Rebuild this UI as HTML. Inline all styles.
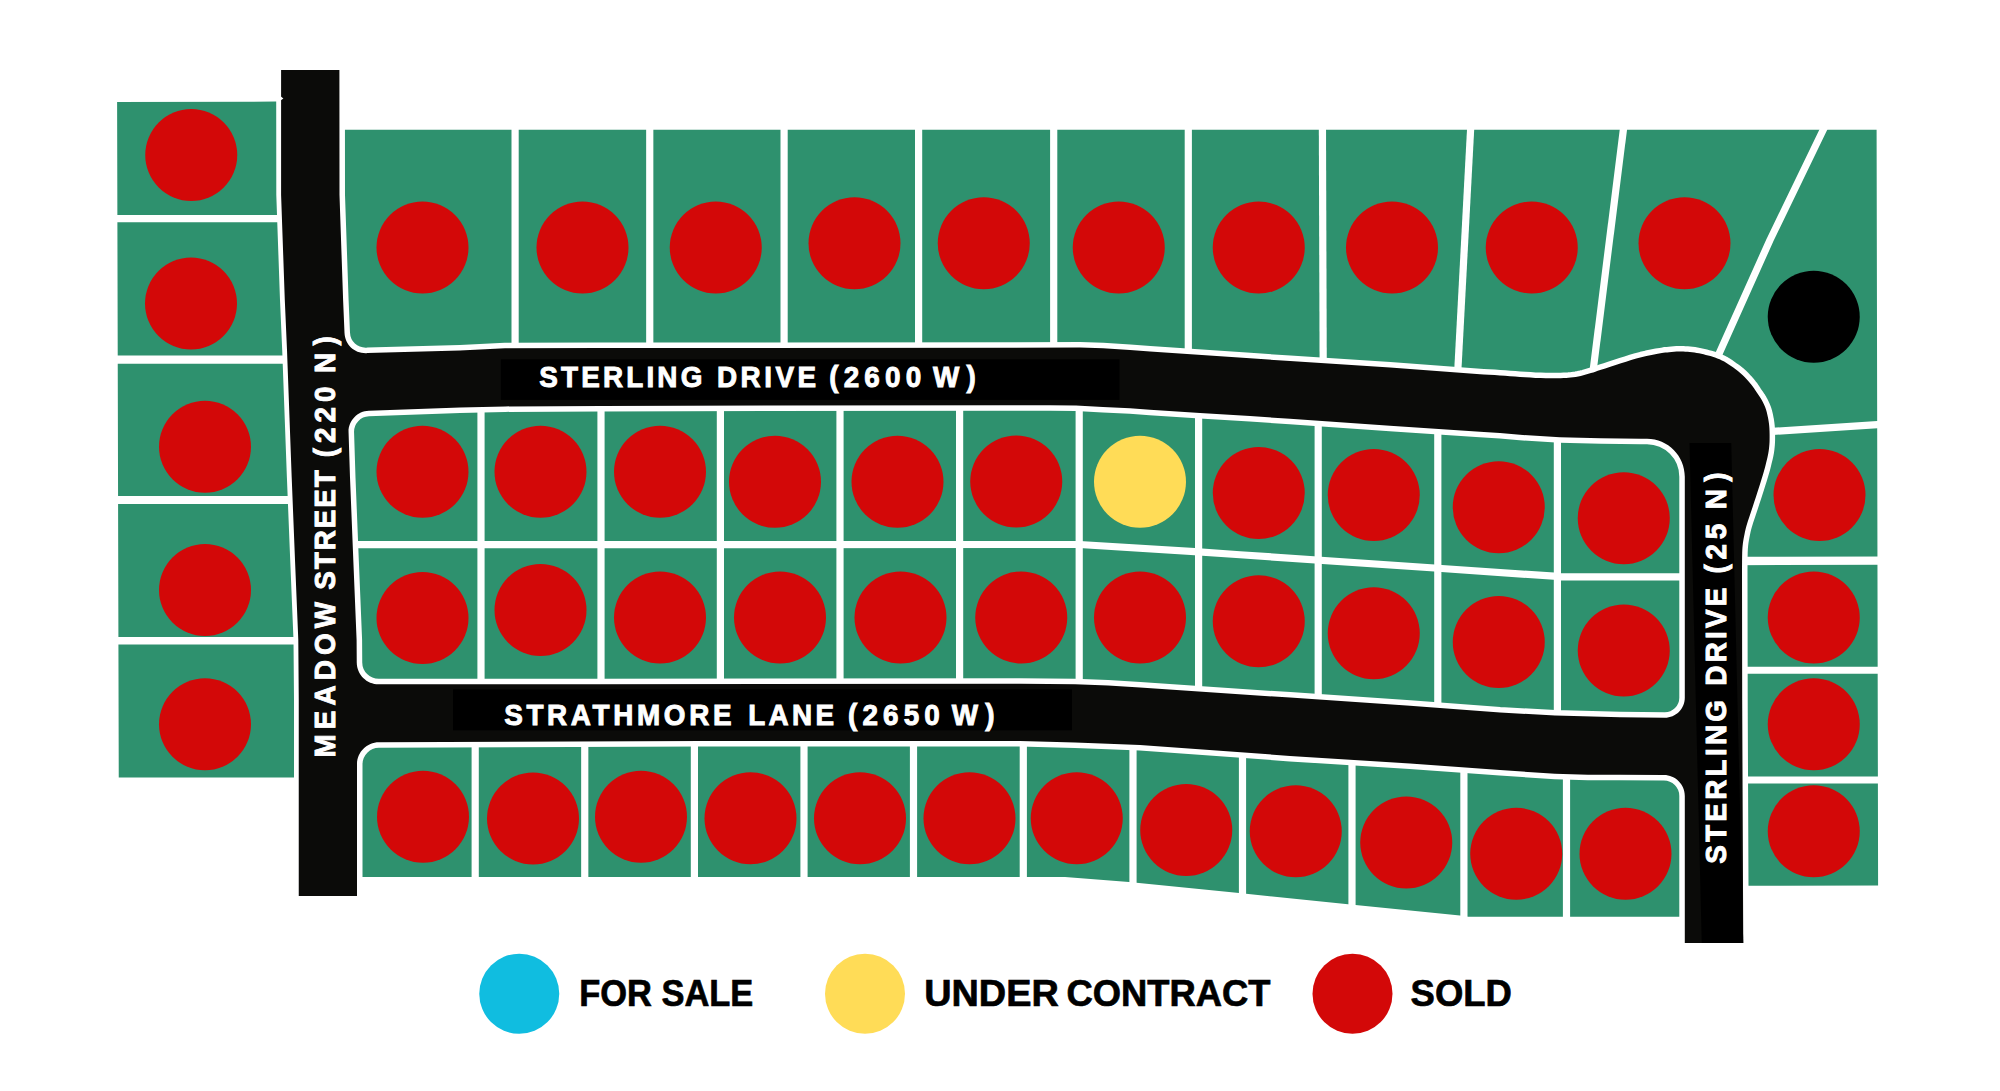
<!DOCTYPE html>
<html lang="en">
<head>
<meta charset="utf-8">
<title>Lot availability map</title>
<style>
html,body{margin:0;padding:0;background:#fff;}
body{width:2000px;height:1091px;overflow:hidden;}
svg{display:block;}
</style>
</head>
<body>
<svg width="2000" height="1091" viewBox="0 0 2000 1091">
<rect width="2000" height="1091" fill="#fff"/>
<g fill="#2e916e">
<polygon points="320,129.7 1876.6,129.7 1878.1,885.6 1715,885.75 1715,916.75 1468,916.75 1460,915.5 1348,904.25 1239,893 1129,882 1065,877 320,877"/>
</g>
<g fill="none" stroke="#fff" stroke-width="7.2" stroke-linejoin="round">
<polyline points="515.1,120 515.1,360"/>
<polyline points="649.75,120 649.75,360"/>
<polyline points="784.1,120 784.1,360"/>
<polyline points="918.6,120 918.6,360"/>
<polyline points="1053.7,120 1053.7,360"/>
<polyline points="1188.3,120 1188.3,360"/>
<polyline points="1322.4,120 1323.2,372"/>
<polyline points="1471.1,120 1457.3,380"/>
<polyline points="1624.6,120 1592.2,378"/>
<polyline points="1828,120 1770,240 1718,356"/>
<polyline points="1765,431.9 1885,424.1"/>
<polyline points="1735,670.25 1885,670.25"/>
<polyline points="1735,780 1885,780"/>
<polyline points="481,400 481,720"/>
<polyline points="601,400 601,720"/>
<polyline points="720.4,400 720.4,720"/>
<polyline points="840,400 840,720"/>
<polyline points="959.6,400 959.6,720"/>
<polyline points="1079.2,400 1079.2,720"/>
<polyline points="1198.6,400 1198.6,720"/>
<polyline points="1318.2,400 1318.2,720"/>
<polyline points="1437.8,400 1437.8,720"/>
<polyline points="1557.4,400 1557.4,720"/>
<polyline points="340,544.6 1079.5,544.5 1198.75,551.9 1240,554.75 1434.5,568 1554,576.2 1561,576.9 1700,576.9"/>
<polyline points="475.2,730 475.2,925"/>
<polyline points="584.75,730 584.75,925"/>
<polyline points="694.4,730 694.4,925"/>
<polyline points="804,730 804,925"/>
<polyline points="913.5,730 913.5,925"/>
<polyline points="1023.3,730 1023.3,925"/>
<polyline points="1133,730 1133,925"/>
<polyline points="1242.5,730 1242.5,925"/>
<polyline points="1352,730 1352,925"/>
<polyline points="1463.9,730 1463.9,925"/>
<polyline points="1566.5,730 1566.5,925"/>
<polyline points="1735,561 1885,560.6" stroke-width="8.4"/>
</g>
<path d="M281.1 70L339.4 70L339.5 195L343.1 300L344.5 332.72C345.02 344.72 354.38 353.46 366.39 353.13L367.5 353.1L460 350.4L505 348.3L600 348.1L1080 347.6L1103 348.3L1130 350.1L1150 351.5L1250 358.3L1290 361L1390 367.6L1480 374.2L1483.59 374.41L1488.75 374.71L1494.53 375.05L1500 375.4L1504.99 375.76L1509.97 376.15L1514.96 376.54L1520 376.9L1525.1 377.25L1530.24 377.59L1535.39 377.88L1540.5 378.1L1545.79 378.22L1551.2 378.26L1556.29 378.25L1560.6 378.2L1563.83 378.12L1566.27 378.01L1568.41 377.84L1570.7 377.6L1573.22 377.28L1575.74 376.89L1578.27 376.43L1580.8 375.9L1583.35 375.29L1585.91 374.6L1588.46 373.86L1591 373.1L1593.28 372.39L1595.39 371.68L1597.8 370.86L1601 369.8L1605.29 368.39L1610.36 366.73L1615.74 364.97L1621 363.3L1626.08 361.7L1631.2 360.09L1636.3 358.56L1641.3 357.2L1646.42 356L1651.62 354.94L1656.46 354.03L1660.5 353.3L1663.39 352.82L1665.44 352.55L1667.19 352.38L1669.2 352.2L1671.6 351.97L1674.11 351.76L1676.62 351.6L1679 351.5L1681.2 351.49L1683.29 351.54L1685.36 351.65L1687.5 351.8L1689.75 352L1692.06 352.24L1694.39 352.54L1696.7 352.9L1698.98 353.32L1701.25 353.81L1703.52 354.34L1705.8 354.9L1708.09 355.47L1710.39 356.07L1712.7 356.73L1715 357.5L1717.3 358.38L1719.61 359.34L1721.91 360.41L1724.2 361.6L1726.48 362.94L1728.75 364.4L1731.02 365.96L1733.3 367.6L1735.6 369.28L1737.92 371.02L1740.23 372.88L1742.5 374.9L1744.79 377.19L1747.11 379.7L1749.29 382.21L1751.2 384.5L1752.74 386.49L1754 388.31L1755.14 390.05L1756.3 391.8L1757.51 393.53L1758.7 395.21L1759.86 396.94L1761 398.8L1762.15 400.84L1763.29 403.01L1764.36 405.25L1765.3 407.5L1766.08 409.77L1766.73 412.08L1767.29 414.4L1767.8 416.7L1768.25 418.98L1768.63 421.25L1768.95 423.52L1769.2 425.8L1769.38 428.09L1769.5 430.39L1769.57 432.7L1769.6 435L1769.61 437.3L1769.59 439.61L1769.53 441.91L1769.4 444.2L1769.21 446.48L1768.97 448.75L1768.67 451.02L1768.3 453.3L1767.85 455.61L1767.32 457.94L1766.76 460.25L1766.2 462.5L1765.73 464.47L1765.3 466.24L1764.77 468.27L1764 471L1762.91 474.68L1761.59 479.03L1760.15 483.69L1758.7 488.3L1757.25 492.82L1755.74 497.44L1754.22 502.08L1752.7 506.7L1751.11 511.5L1749.46 516.42L1747.93 521.07L1746.7 525L1745.87 527.94L1745.33 530.18L1744.92 532.12L1744.5 534.2L1744.04 536.48L1743.61 538.75L1743.22 541.02L1742.9 543.3L1742.65 545.4L1742.46 547.38L1742.32 549.61L1742.2 552.5L1742.11 556.7L1742.06 561.83L1742.02 566.66L1742 570L1742.2 700L1743.25 943L1684.8 943L1684.8 795.94C1684.8 784.36 1675.44 774.97 1663.86 774.94L1620 774.8L1588 774.7L1555 773.8L1500 770.1L1410 763.6L1290 755.9L1140 745.1L1108 743.7L1075 742.6L1020 740.9L700 740.9L378.9 742.3C366.79 742.36 357 752.19 357 764.3L357 896L298.75 896L298.75 700L298.3 640L295 560L291.7 477.5L287 350L284.8 300L281.1 195ZM348.57 432.51C348.2 420.95 357.25 411.27 368.81 410.85L460 407.6L505 406.4L600 405.9L1000 405.2L1050 405.2L1076 405.6L1103 407L1130 408.3L1150 409.7L1200 412.9L1250 416.1L1290 418.8L1390 425.7L1480 431.8L1500 433.1L1520 434.8L1560 437.2L1601 438.3L1641 438.7L1647.06 438.74C1667.95 438.88 1684.8 455.86 1684.8 476.74L1684.8 600L1684.8 697.65C1684.8 708.75 1675.75 717.73 1664.65 717.64L1620 717.3L1555 715.5L1500 712.6L1410 705.8L1290 697.6L1140 687.6L1108 685.4L1075 684.3L1020 683.8L600 684.2L378.76 684.29C366.66 684.3 356.83 674.54 356.75 662.44L356.6 640L353.3 560L350 477.5Z" fill="#fff" stroke="#fff" stroke-width="11" stroke-linejoin="round" fill-rule="evenodd"/>
<polygon points="117.1,102 276.2,101.6 276.3,195 280,300 282.2,350 286.9,477.5 290.2,560 293.5,640 294,700 294,777.5 118.75,777.5" fill="#2e916e"/>
<line x1="110" y1="218.6" x2="300" y2="218.6" stroke="#fff" stroke-width="7.4"/>
<line x1="110" y1="359.6" x2="300" y2="359.6" stroke="#fff" stroke-width="8.2"/>
<line x1="110" y1="500" x2="300" y2="500" stroke="#fff" stroke-width="8"/>
<line x1="110" y1="640.75" x2="300" y2="640.75" stroke="#fff" stroke-width="7.5"/>
<path d="M281.1 70L339.4 70L339.5 195L343.1 300L344.5 332.72C345.02 344.72 354.38 353.46 366.39 353.13L367.5 353.1L460 350.4L505 348.3L600 348.1L1080 347.6L1103 348.3L1130 350.1L1150 351.5L1250 358.3L1290 361L1390 367.6L1480 374.2L1483.59 374.41L1488.75 374.71L1494.53 375.05L1500 375.4L1504.99 375.76L1509.97 376.15L1514.96 376.54L1520 376.9L1525.1 377.25L1530.24 377.59L1535.39 377.88L1540.5 378.1L1545.79 378.22L1551.2 378.26L1556.29 378.25L1560.6 378.2L1563.83 378.12L1566.27 378.01L1568.41 377.84L1570.7 377.6L1573.22 377.28L1575.74 376.89L1578.27 376.43L1580.8 375.9L1583.35 375.29L1585.91 374.6L1588.46 373.86L1591 373.1L1593.28 372.39L1595.39 371.68L1597.8 370.86L1601 369.8L1605.29 368.39L1610.36 366.73L1615.74 364.97L1621 363.3L1626.08 361.7L1631.2 360.09L1636.3 358.56L1641.3 357.2L1646.42 356L1651.62 354.94L1656.46 354.03L1660.5 353.3L1663.39 352.82L1665.44 352.55L1667.19 352.38L1669.2 352.2L1671.6 351.97L1674.11 351.76L1676.62 351.6L1679 351.5L1681.2 351.49L1683.29 351.54L1685.36 351.65L1687.5 351.8L1689.75 352L1692.06 352.24L1694.39 352.54L1696.7 352.9L1698.98 353.32L1701.25 353.81L1703.52 354.34L1705.8 354.9L1708.09 355.47L1710.39 356.07L1712.7 356.73L1715 357.5L1717.3 358.38L1719.61 359.34L1721.91 360.41L1724.2 361.6L1726.48 362.94L1728.75 364.4L1731.02 365.96L1733.3 367.6L1735.6 369.28L1737.92 371.02L1740.23 372.88L1742.5 374.9L1744.79 377.19L1747.11 379.7L1749.29 382.21L1751.2 384.5L1752.74 386.49L1754 388.31L1755.14 390.05L1756.3 391.8L1757.51 393.53L1758.7 395.21L1759.86 396.94L1761 398.8L1762.15 400.84L1763.29 403.01L1764.36 405.25L1765.3 407.5L1766.08 409.77L1766.73 412.08L1767.29 414.4L1767.8 416.7L1768.25 418.98L1768.63 421.25L1768.95 423.52L1769.2 425.8L1769.38 428.09L1769.5 430.39L1769.57 432.7L1769.6 435L1769.61 437.3L1769.59 439.61L1769.53 441.91L1769.4 444.2L1769.21 446.48L1768.97 448.75L1768.67 451.02L1768.3 453.3L1767.85 455.61L1767.32 457.94L1766.76 460.25L1766.2 462.5L1765.73 464.47L1765.3 466.24L1764.77 468.27L1764 471L1762.91 474.68L1761.59 479.03L1760.15 483.69L1758.7 488.3L1757.25 492.82L1755.74 497.44L1754.22 502.08L1752.7 506.7L1751.11 511.5L1749.46 516.42L1747.93 521.07L1746.7 525L1745.87 527.94L1745.33 530.18L1744.92 532.12L1744.5 534.2L1744.04 536.48L1743.61 538.75L1743.22 541.02L1742.9 543.3L1742.65 545.4L1742.46 547.38L1742.32 549.61L1742.2 552.5L1742.11 556.7L1742.06 561.83L1742.02 566.66L1742 570L1742.2 700L1743.25 943L1684.8 943L1684.8 795.94C1684.8 784.36 1675.44 774.97 1663.86 774.94L1620 774.8L1588 774.7L1555 773.8L1500 770.1L1410 763.6L1290 755.9L1140 745.1L1108 743.7L1075 742.6L1020 740.9L700 740.9L378.9 742.3C366.79 742.36 357 752.19 357 764.3L357 896L298.75 896L298.75 700L298.3 640L295 560L291.7 477.5L287 350L284.8 300L281.1 195ZM348.57 432.51C348.2 420.95 357.25 411.27 368.81 410.85L460 407.6L505 406.4L600 405.9L1000 405.2L1050 405.2L1076 405.6L1103 407L1130 408.3L1150 409.7L1200 412.9L1250 416.1L1290 418.8L1390 425.7L1480 431.8L1500 433.1L1520 434.8L1560 437.2L1601 438.3L1641 438.7L1647.06 438.74C1667.95 438.88 1684.8 455.86 1684.8 476.74L1684.8 600L1684.8 697.65C1684.8 708.75 1675.75 717.73 1664.65 717.64L1620 717.3L1555 715.5L1500 712.6L1410 705.8L1290 697.6L1140 687.6L1108 685.4L1075 684.3L1020 683.8L600 684.2L378.76 684.29C366.66 684.3 356.83 674.54 356.75 662.44L356.6 640L353.3 560L350 477.5Z" fill="#0b0b09" fill-rule="evenodd"/>
<polygon points="280.9,96.6 283.4,98.4 280.9,100.3" fill="#fff"/>
<g fill="#000">
<rect x="500.9" y="359.3" width="618.6" height="40.6"/>
<rect x="453" y="689.3" width="619" height="41"/>
<polygon points="1689.5,443 1731.25,443 1743.25,943 1701.75,943"/>
</g>
<g fill="#d30808">
<circle cx="191.25" cy="155" r="46"/>
<circle cx="191" cy="303.5" r="46"/>
<circle cx="205" cy="446.75" r="46"/>
<circle cx="205" cy="590" r="46"/>
<circle cx="205" cy="724.25" r="46"/>
<circle cx="422.5" cy="247.5" r="46"/>
<circle cx="582.5" cy="247.5" r="46"/>
<circle cx="715.75" cy="247.5" r="46"/>
<circle cx="854.5" cy="243.25" r="46"/>
<circle cx="983.75" cy="243.25" r="46"/>
<circle cx="1118.75" cy="247.5" r="46"/>
<circle cx="1258.75" cy="247.5" r="46"/>
<circle cx="1392" cy="247.5" r="46"/>
<circle cx="1531.75" cy="247.5" r="46"/>
<circle cx="1684.5" cy="243.25" r="46"/>
<circle cx="422.5" cy="471.75" r="46"/>
<circle cx="540.5" cy="471.75" r="46"/>
<circle cx="660" cy="471.75" r="46"/>
<circle cx="775" cy="481.75" r="46"/>
<circle cx="897.5" cy="481.75" r="46"/>
<circle cx="1016.25" cy="481.5" r="46"/>
<circle cx="1258.75" cy="493" r="46"/>
<circle cx="1373.75" cy="495" r="46"/>
<circle cx="1498.75" cy="507.2" r="46"/>
<circle cx="1623.75" cy="518.2" r="46"/>
<circle cx="422.5" cy="618" r="46"/>
<circle cx="540.5" cy="610" r="46"/>
<circle cx="660" cy="617.5" r="46"/>
<circle cx="780" cy="617.5" r="46"/>
<circle cx="900.5" cy="617.5" r="46"/>
<circle cx="1021.25" cy="617.5" r="46"/>
<circle cx="1140" cy="617.5" r="46"/>
<circle cx="1258.75" cy="621.25" r="46"/>
<circle cx="1373.75" cy="633.25" r="46"/>
<circle cx="1498.75" cy="642" r="46"/>
<circle cx="1623.75" cy="650.5" r="46"/>
<circle cx="423" cy="816.75" r="46"/>
<circle cx="533" cy="818.5" r="46"/>
<circle cx="641" cy="816.75" r="46"/>
<circle cx="750.5" cy="818.25" r="46"/>
<circle cx="860" cy="818.25" r="46"/>
<circle cx="969.5" cy="818.25" r="46"/>
<circle cx="1076.75" cy="818.25" r="46"/>
<circle cx="1186.25" cy="830" r="46"/>
<circle cx="1295.75" cy="831.25" r="46"/>
<circle cx="1406.25" cy="842.5" r="46"/>
<circle cx="1516.25" cy="853.75" r="46"/>
<circle cx="1625.5" cy="853.75" r="46"/>
<circle cx="1819.5" cy="495" r="46"/>
<circle cx="1813.75" cy="617.5" r="46"/>
<circle cx="1813.75" cy="724.25" r="46"/>
<circle cx="1813.75" cy="831.25" r="46"/>
<circle cx="1352.5" cy="993.75" r="40"/>
</g>
<circle cx="1140" cy="481.75" r="46" fill="#ffdc57"/>
<circle cx="1813.75" cy="316.75" r="46" fill="#000"/>
<circle cx="519.25" cy="993.75" r="40" fill="#10bde0"/>
<circle cx="865" cy="993.75" r="40" fill="#ffdc57"/>
<g font-family="'Liberation Sans', Arial, sans-serif" font-weight="700">
<g fill="#fff" stroke="#fff" stroke-width="0.95" font-size="30.3">
<text transform="translate(540 386.6) scale(0.92 1)"><tspan x="-0.87" letter-spacing="3.45">STERLING</tspan> <tspan x="192.27" letter-spacing="3.81">DRIVE</tspan> <tspan x="314.36" letter-spacing="5.61">(2600</tspan> <tspan x="427.25" letter-spacing="7.74">W)</tspan></text>
<text transform="translate(505 724.5) scale(0.92 1)"><tspan x="-0.87" letter-spacing="3.95">STRATHMORE</tspan> <tspan x="264.28" letter-spacing="3.68">LANE</tspan> <tspan x="372.84" letter-spacing="5.59">(2650</tspan> <tspan x="485.73" letter-spacing="7.63">W)</tspan></text>
<text transform="translate(335.2 757) rotate(-90) scale(0.92 1)"><tspan x="-0.67" letter-spacing="5.56">MEADOW</tspan> <tspan x="181.84" letter-spacing="2.07">STREET</tspan> <tspan x="325.88" letter-spacing="5.38">(220</tspan> <tspan x="417.32" letter-spacing="8.09">N)</tspan></text>
<text transform="translate(1726 864) rotate(-90) scale(0.92 1)"><tspan x="0.21" letter-spacing="3.56">STERLING</tspan> <tspan x="193.84" letter-spacing="3.48">DRIVE</tspan> <tspan x="315.77" letter-spacing="5.09">(25</tspan> <tspan x="385.58" letter-spacing="8.14">N)</tspan></text>
</g>
<g fill="#000" stroke="#000" stroke-width="0.7" font-size="36.8">
<text x="579.3" y="1005.5" textLength="174" lengthAdjust="spacingAndGlyphs">FOR SALE</text>
<text y="1005.5"><tspan x="924.2" textLength="134.6" lengthAdjust="spacingAndGlyphs">UNDER</tspan> <tspan x="1066.6" textLength="203.8" lengthAdjust="spacingAndGlyphs">CONTRACT</tspan></text>
<text x="1410.6" y="1005.5" textLength="101.2" lengthAdjust="spacingAndGlyphs">SOLD</text>
</g>
</g>
</svg>
</body>
</html>
